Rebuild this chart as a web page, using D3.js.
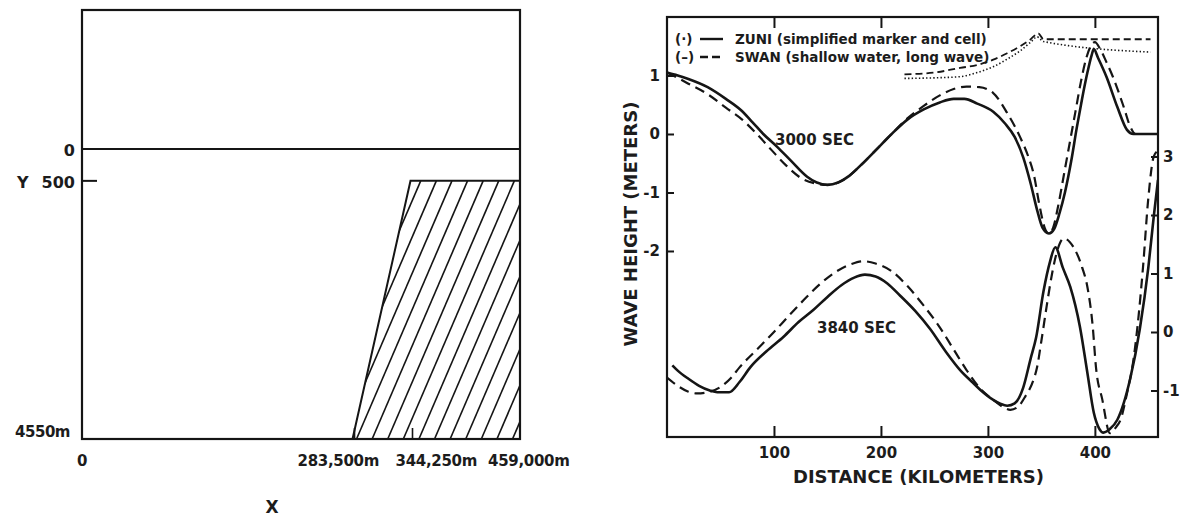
<!DOCTYPE html>
<html><head><meta charset="utf-8">
<script src="https://cdn.jsdelivr.net/npm/d3@7"></script>
<style>
body{margin:0;background:#fff}
svg{display:block}
text{font-family:"DejaVu Sans",sans-serif;font-weight:bold;fill:#1c1c1c}
</style>
</head><body>
<svg id="c" width="1182" height="517"></svg>
<script>
// ---------- LEFT PANEL DATA (model geometry) ----------
const geomX = [0, 283500, 344250, 459000];                 // metres
const geomXLabels = ["0", "283,500m", "344,250m", "459,000m"];
const geomDepthTicks = [0, 500];                            // metres
const geomDepthLabels = ["0", "500"];
const shelfDepth = 500;
const basinDepth = 4550;
const basinDepthLabel = "4550m";

// ---------- RIGHT PANEL DATA (wave height, metres vs km) ----------
const xTicks = [100, 200, 300, 400];
const leftTicks = [1, 0, -1, -2];
const rightTicks = [3, 2, 1, 0, -1];

const zuni3000Km = [0,10,20,38,55,69,80,90,103,116,131,140,150,160,170,182,195,210,225,240,255,268,278,290,305,316,325,333,340,346,351,357,362,367,372,378,383,388,393,397,399,403,411,421,430,436,459];
const zuni3000H  = [1.05,1.0,0.94,0.80,0.60,0.41,0.2,0.0,-0.22,-0.46,-0.73,-0.83,-0.87,-0.83,-0.72,-0.52,-0.28,0.0,0.25,0.42,0.54,0.6,0.6,0.52,0.38,0.18,-0.05,-0.4,-0.85,-1.3,-1.6,-1.7,-1.62,-1.35,-1.0,-0.45,0.1,0.6,1.05,1.35,1.45,1.3,0.97,0.46,0.07,0.0,0.0];

const swan3000Km = [0,10,20,38,55,70,84,98,112,125,140,150,160,170,182,195,210,225,240,255,268,280,292,305,318,330,338,343,348,353,357,361,366,371,377,382,387,392,396,400,405,411,417,427,433,438,459];
const swan3000H  = [1.05,0.96,0.86,0.68,0.45,0.25,0.0,-0.28,-0.55,-0.75,-0.85,-0.87,-0.83,-0.72,-0.52,-0.28,0.0,0.27,0.48,0.66,0.77,0.81,0.80,0.70,0.36,-0.05,-0.4,-0.7,-1.2,-1.6,-1.7,-1.6,-1.2,-0.7,-0.1,0.4,0.9,1.3,1.5,1.57,1.45,1.22,0.97,0.46,0.13,0.0,0.0];

const zuni3840Km = [5,10,20,30,40,47,58,68,78,93,109,123,137,150,163,175,185,195,206,218,232,246,260,274,285,293,305,312,318,325,333,340,345,352,358,363,370,377,386,393,399,404,408,414,421,433,442,450,455,459];
const zuni3840H  = [-0.57,-0.66,-0.80,-0.92,-1.0,-1.03,-1.03,-0.85,-0.6,-0.33,-0.08,0.17,0.38,0.6,0.8,0.93,0.98,0.95,0.83,0.62,0.36,0.05,-0.32,-0.65,-0.85,-0.99,-1.16,-1.23,-1.26,-1.22,-0.95,-0.45,-0.1,0.7,1.2,1.45,1.1,0.77,0.09,-0.7,-1.38,-1.65,-1.72,-1.66,-1.5,-0.8,0.05,1.11,1.97,2.6];

const swan3840Km = [0,10,20,28,38,50,60,68,84,100,114,128,143,158,172,183,195,210,225,240,255,268,280,292,305,314,321,328,335,342,346,350,355,360,365,371,380,388,393,398,401,407,414,420,424,430,436,441,445,450,455,459];
const swan3840H  = [-0.78,-0.92,-1.02,-1.05,-1.03,-0.94,-0.78,-0.6,-0.3,0.0,0.28,0.55,0.82,1.03,1.16,1.21,1.17,1.04,0.78,0.45,0.08,-0.3,-0.65,-0.95,-1.16,-1.28,-1.33,-1.28,-1.1,-0.85,-0.6,-0.15,0.45,1.0,1.4,1.6,1.45,1.11,0.77,0.09,-0.6,-1.16,-1.73,-1.62,-1.5,-1.05,-0.48,0.3,1.11,2.3,3.0,3.1];

// bottom-profile sketches drawn near the top of the plot
const topoDashKm = [222,250,274,290,305,318,330,340,347,352,452];
const topoDashH  = [1.02,1.05,1.13,1.18,1.27,1.38,1.50,1.62,1.72,1.62,1.62];
const topoDotKm  = [222,250,274,290,305,318,330,340,346,352,452];
const topoDotH   = [0.95,0.96,0.98,1.05,1.15,1.28,1.42,1.57,1.66,1.58,1.40];

const legendLabels = ["ZUNI (simplified marker and cell)", "SWAN (shallow water, long wave)"];
const legendMarks = ["(·)", "(–)"];

// ---------- DRAW ----------
const svg = d3.select("#c");
const INK = "#151515";

// ===== Left panel =====
const L = {left: 82, right: 520, top: 10, bottom: 439};
const gx = d3.scaleLinear().domain([0, 459000]).range([L.left, L.right]);
const gy = d3.scaleLinear().domain([0, basinDepth]).range([149, L.bottom]);
const lp = svg.append("g");

// hatched slope / shelf
const shelfPoly = [[geomX[1], basinDepth], [geomX[2], shelfDepth], [geomX[3], shelfDepth], [geomX[3], basinDepth]];
const polyPx = shelfPoly.map(d => [gx(d[0]), gy(d[1])]);
lp.append("clipPath").attr("id", "shelfClip").append("polygon").attr("points", polyPx.map(p => p.join(",")).join(" "));
const hatchG = lp.append("g").attr("clip-path", "url(#shelfClip)");
const yb = gy(basinDepth), yt = gy(shelfDepth);
const slant = 0.43, step = 15.6;
const x0 = gx(geomX[1]) + 4;
for (let k = -10; k < 14; k++) {
  const xb = x0 + k * step;
  hatchG.append("line").attr("x1", xb).attr("y1", yb).attr("x2", xb + slant * (yb - yt)).attr("y2", yt)
    .attr("stroke", INK).attr("stroke-width", 1.6);
}
lp.append("polygon").attr("points", polyPx.map(p => p.join(",")).join(" "))
  .attr("fill", "none").attr("stroke", INK).attr("stroke-width", 2);

// frame
lp.append("rect").attr("x", L.left).attr("y", L.top).attr("width", L.right - L.left).attr("height", L.bottom - L.top)
  .attr("fill", "none").attr("stroke", INK).attr("stroke-width", 2.2);
// sea surface line
lp.append("line").attr("x1", L.left).attr("x2", L.right).attr("y1", gy(0)).attr("y2", gy(0))
  .attr("stroke", INK).attr("stroke-width", 2.2);
// 500 tick
lp.append("line").attr("x1", L.left).attr("x2", L.left + 15).attr("y1", gy(shelfDepth)).attr("y2", gy(shelfDepth))
  .attr("stroke", INK).attr("stroke-width", 2);
// small ticks at the toe / top of the slope
[geomX[1], geomX[2]].forEach(v => {
  lp.append("line").attr("x1", gx(v) + 2).attr("x2", gx(v) + 2).attr("y1", L.bottom).attr("y2", L.bottom - 11)
    .attr("stroke", INK).attr("stroke-width", 1.6);
});
// depth labels
lp.append("text").attr("x", 75).attr("y", gy(geomDepthTicks[0]) + 7).attr("text-anchor", "end")
  .style("font-size", "16px").text(geomDepthLabels[0]);
lp.append("text").attr("x", 75).attr("y", gy(geomDepthTicks[1]) + 7).attr("text-anchor", "end")
  .style("font-size", "16px").text(geomDepthLabels[1]);
lp.append("text").attr("x", 17).attr("y", gy(geomDepthTicks[1]) + 7)
  .style("font-size", "16px").text("Y");
lp.append("text").attr("x", 70).attr("y", gy(basinDepth) - 2).attr("text-anchor", "end")
  .style("font-size", "15px").style("letter-spacing", "-0.5px").text(basinDepthLabel);
// x labels
const xLabelShift = [0, -55, -15, -32];
geomX.forEach((v, i) => {
  lp.append("text").attr("x", gx(v) + xLabelShift[i]).attr("y", 466)
    .attr("text-anchor", i === 0 ? "middle" : "start")
    .style("font-size", "15px").style("letter-spacing", "-0.3px").text(geomXLabels[i]);
});
lp.append("text").attr("x", 272).attr("y", 513).attr("text-anchor", "middle")
  .style("font-size", "17px").text("X");

// ===== Right panel =====
const R = {left: 667, right: 1158, top: 17, bottom: 437};
const x = d3.scaleLinear().domain([0, 459]).range([R.left, R.right]);
const yL = d3.scaleLinear().domain([-5.18, 2.0]).range([R.bottom, R.top]);
const yR = d3.scaleLinear().domain([-1.795, 5.385]).range([R.bottom, R.top]);
const rp = svg.append("g");

function styleAxis(g) {
  g.select(".domain").remove();
  g.selectAll(".tick line").attr("stroke", INK).attr("stroke-width", 2);
  g.selectAll(".tick text").style("font-size", "15px").attr("fill", "#1c1c1c")
    .style("font-family", "'DejaVu Sans',sans-serif").style("font-weight", "bold");
}
const fmt = d => (d < 0 ? "-" + Math.abs(d) : String(d));

rp.append("g").attr("transform", `translate(0,${R.bottom})`)
  .call(d3.axisBottom(x).tickValues(xTicks).tickSize(-11).tickPadding(10).tickFormat(d3.format("d")))
  .call(styleAxis);
rp.append("g").attr("transform", `translate(0,${R.top})`)
  .call(d3.axisTop(x).tickValues(xTicks).tickSize(-11).tickFormat(""))
  .call(styleAxis);
rp.append("g").attr("transform", `translate(${R.left},0)`)
  .call(d3.axisLeft(yL).tickValues(leftTicks).tickSize(-7).tickPadding(7).tickFormat(fmt))
  .call(styleAxis);
rp.append("g").attr("transform", `translate(${R.right},0)`)
  .call(d3.axisRight(yR).tickValues(rightTicks).tickSize(-7).tickPadding(5).tickFormat(fmt))
  .call(styleAxis);

rp.append("rect").attr("x", R.left).attr("y", R.top).attr("width", R.right - R.left).attr("height", R.bottom - R.top)
  .attr("fill", "none").attr("stroke", INK).attr("stroke-width", 2.2);

rp.append("clipPath").attr("id", "plotClip").append("rect")
  .attr("x", R.left).attr("y", R.top).attr("width", R.right - R.left).attr("height", R.bottom - R.top);
const curves = rp.append("g").attr("clip-path", "url(#plotClip)");

function addLine(km, h, ys, dash, width) {
  const line = d3.line().x(d => x(d[0])).y(d => ys(d[1])).curve(d3.curveMonotoneX);
  curves.append("path").datum(d3.zip(km, h)).attr("d", line)
    .attr("fill", "none").attr("stroke", INK).attr("stroke-width", width)
    .attr("stroke-dasharray", dash).attr("stroke-linejoin", "round");
}
addLine(topoDotKm, topoDotH, yL, "1.4,2.2", 1.6);
addLine(topoDashKm, topoDashH, yL, "7,4", 1.8);
addLine(swan3000Km, swan3000H, yL, "10,6", 2.2);
addLine(zuni3000Km, zuni3000H, yL, null, 2.6);
addLine(swan3840Km, swan3840H, yR, "10,6", 2.2);
addLine(zuni3840Km, zuni3840H, yR, null, 2.6);

// curve labels
rp.append("text").attr("x", 775).attr("y", 145).style("font-size", "15px").text("3000 SEC");
rp.append("text").attr("x", 817).attr("y", 333).style("font-size", "15px").text("3840 SEC");

// legend
const legY = [39, 57];
legendLabels.forEach((t, i) => {
  rp.append("text").attr("x", 675).attr("y", legY[i] + 5).style("font-size", "13.5px").text(legendMarks[i]);
  rp.append("line").attr("x1", 700).attr("x2", 723).attr("y1", legY[i]).attr("y2", legY[i])
    .attr("stroke", INK).attr("stroke-width", 2.4).attr("stroke-dasharray", i === 0 ? null : "8,4");
  rp.append("text").attr("x", 735).attr("y", legY[i] + 5).style("font-size", "13.5px").text(t);
});

// axis titles
rp.append("text").attr("x", (R.left + R.right) / 2 + 6).attr("y", 483).attr("text-anchor", "middle")
  .style("font-size", "18px").text("DISTANCE (KILOMETERS)");
rp.append("text").attr("transform", "translate(637,224) rotate(-90)").attr("text-anchor", "middle")
  .style("font-size", "18px").text("WAVE HEIGHT (METERS)");
</script>
</body></html>
